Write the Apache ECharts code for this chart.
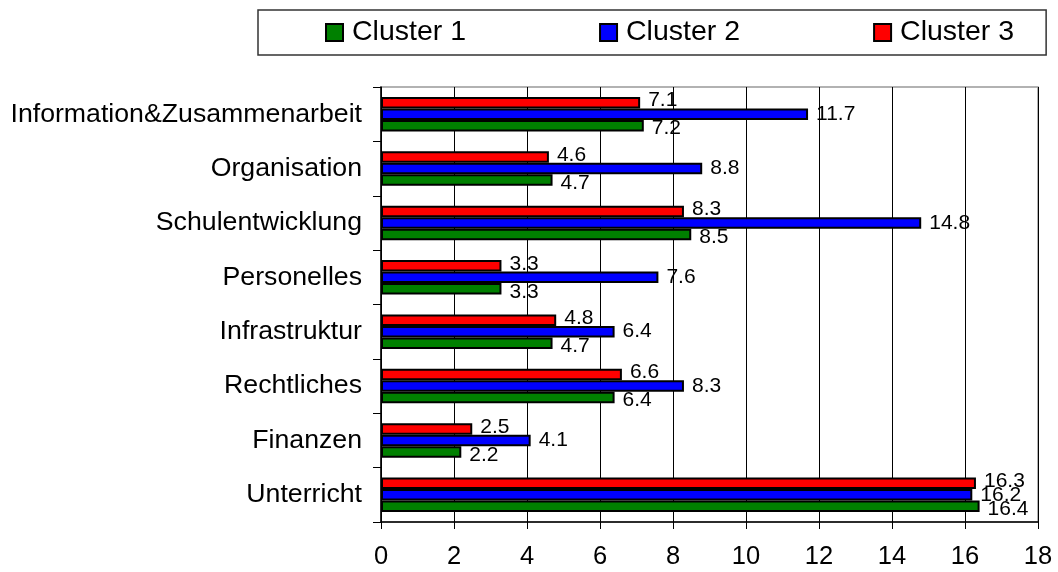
<!DOCTYPE html>
<html>
<head>
<meta charset="utf-8">
<script src="https://cdn.jsdelivr.net/npm/echarts@6/dist/echarts.min.js"></script>
<style>
  html, body { margin: 0; padding: 0; background: #fff; }
  #chart { width: 1058px; height: 572px; }
</style>
</head>
<body>
<div id="chart"></div>
<script>
// Kategorien von unten nach oben
var categories = ['Unterricht', 'Finanzen', 'Rechtliches', 'Infrastruktur', 'Personelles',
                  'Schulentwicklung', 'Organisation', 'Information&Zusammenarbeit'];
var cluster1 = [16.4, 2.2, 6.4, 4.7, 3.3, 8.5, 4.7, 7.2];
var cluster2 = [16.2, 4.1, 8.3, 6.4, 7.6, 14.8, 8.8, 11.7];
var cluster3 = [16.3, 2.5, 6.6, 4.8, 3.3, 8.3, 4.6, 7.1];
var xTicks = { min: 0, max: 18, interval: 2 };

var font = 'Liberation Sans, Arial, sans-serif';

function barSeries(name, data, color, labelOffset) {
  return {
    name: name,
    type: 'bar',
    data: data,
    barWidth: 11.5,
    barGap: '0%',
    itemStyle: { color: color, borderColor: '#000', borderWidth: 2 },
    label: {
      show: true,
      position: 'right',
      distance: 8,
      offset: labelOffset,
      color: '#000',
      fontSize: 21,
      fontFamily: font
    }
  };
}

var chart = echarts.init(document.getElementById('chart'));
var option = {
  animation: false,
  backgroundColor: '#fff',
  textStyle: { fontFamily: font },
  legend: {
    left: 258,
    top: 10,
    data: ['Cluster 1', 'Cluster 2', 'Cluster 3'],
    icon: 'rect',
    itemWidth: 17,
    itemHeight: 17,
    itemGap: 133,
    padding: [8, 32, 8, 67],
    borderColor: '#333',
    borderWidth: 1.5,
    textStyle: { fontSize: 28.5, color: '#000', fontFamily: font, padding: [0, 0, 0, 4] }
  },
  grid: {
    left: 381,
    right: 20,
    top: 87,
    bottom: 50,
    show: true,
    borderColor: '#999',
    borderWidth: 1.5
  },
  xAxis: {
    type: 'value',
    min: xTicks.min,
    max: xTicks.max,
    interval: xTicks.interval,
    axisLine: { show: true, lineStyle: { color: '#000', width: 1.5 } },
    axisTick: { show: true, length: 7, lineStyle: { color: '#000' } },
    splitLine: { show: true, lineStyle: { color: '#000', width: 1 } },
    axisLabel: { color: '#000', fontSize: 25.5, margin: 22, fontFamily: font }
  },
  yAxis: {
    type: 'category',
    data: categories,
    axisLine: { show: true, lineStyle: { color: '#000', width: 1.5 } },
    axisTick: { show: true, length: 8, lineStyle: { color: '#000' } },
    splitLine: { show: false },
    axisLabel: { color: '#000', fontSize: 26.7, margin: 19, fontFamily: font }
  },
  series: [
    barSeries('Cluster 3', cluster3, '#FF0000', [0, -2]),
    barSeries('Cluster 2', cluster2, '#0000FF', [0, 0]),
    barSeries('Cluster 1', cluster1, '#008000', [0, 3])
  ]
};
chart.setOption(option);
</script>
</body>
</html>
